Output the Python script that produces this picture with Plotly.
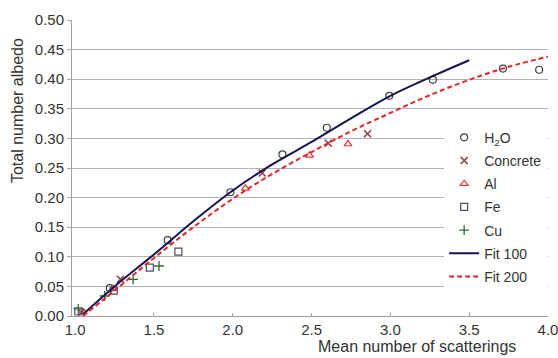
import plotly.graph_objects as go

# Data
h2o_x = [1.22, 1.587, 1.985, 2.315, 2.597, 2.993, 3.27, 3.714, 3.944]
h2o_y = [0.047, 0.128, 0.209, 0.273, 0.318, 0.372, 0.399, 0.418, 0.416]

concrete_x = [1.04, 1.287, 2.187, 2.606, 2.855]
concrete_y = [0.006, 0.062, 0.2416, 0.2917, 0.308]

al_x = [1.05, 1.24, 2.08, 2.487, 2.731]
al_y = [0.007, 0.046, 0.2157, 0.2714, 0.2905]

fe_x = [1.02, 1.245, 1.474, 1.655]
fe_y = [0.008, 0.043, 0.0817, 0.1087]

cu_x = [1.02, 1.187, 1.368, 1.532]
cu_y = [0.012, 0.0338, 0.062, 0.0845]

fit100_x = [1.05, 1.25, 1.5, 1.75, 2.0, 2.25, 2.5, 2.75, 3.0, 3.25, 3.5]
fit100_y = [0.003, 0.050, 0.104, 0.160, 0.212, 0.256, 0.294, 0.334, 0.372, 0.403, 0.432]

fit200_x = [1.05, 1.25, 1.5, 1.75, 2.0, 2.25, 2.5, 2.75, 3.0, 3.25, 3.5, 3.75, 4.0]
fit200_y = [0.0, 0.043, 0.098, 0.150, 0.198, 0.240, 0.277, 0.312, 0.343, 0.373, 0.399, 0.421, 0.438]

x_ticks = [1.0, 1.5, 2.0, 2.5, 3.0, 3.5, 4.0]
y_ticks = [0.0, 0.05, 0.10, 0.15, 0.20, 0.25, 0.30, 0.35, 0.40, 0.45, 0.50]

FONT = "Liberation Sans, Arial, sans-serif"
TXT = "#333333"

fig = go.Figure()

def scatter(x, y, name, symbol, color, size=7, lw=1.2, grp=""):
    fig.add_trace(go.Scatter(
        x=x, y=y, mode="markers", name=name, legendgroup=grp,
        marker=dict(symbol=symbol, size=size, color=color,
                    line=dict(color=color, width=lw)),
    ))

scatter(h2o_x, h2o_y, "H<sub>2</sub>O", "circle-open", "#404040", 7, 1.2, "a")
scatter(concrete_x, concrete_y, "Concrete", "x-thin-open", "#8a3b3b", 7, 1.5, "b")
scatter(al_x, al_y, "Al", "triangle-up-open", "#e03a3a", 7, 1.2, "c")
scatter(fe_x, fe_y, "Fe", "square-open", "#4a4a68", 7, 1.2, "d")
scatter(cu_x, cu_y, "Cu", "cross-thin-open", "#2f6b35", 7, 1.3, "e")

fig.add_trace(go.Scatter(
    x=fit100_x, y=fit100_y, mode="lines", name="Fit 100", legendgroup="f",
    line=dict(color="#141450", width=2, shape="spline"),
))
fig.add_trace(go.Scatter(
    x=fit200_x, y=fit200_y, mode="lines", name="Fit 200", legendgroup="g",
    line=dict(color="#e02828", width=2, dash="5px,3px", shape="spline"),
))

fig.update_layout(
    width=558, height=358, autosize=False,
    margin=dict(l=72, r=10, t=20, b=42, autoexpand=False),
    paper_bgcolor="white", plot_bgcolor="white",
    font=dict(family=FONT, size=15, color=TXT),
    showlegend=True,
    legend=dict(
        xref="container", yref="container",
        x=0.796, y=0.660, xanchor="left", yanchor="top",
        bgcolor="white", borderwidth=0,
        font=dict(family=FONT, size=14, color=TXT),
        traceorder="grouped", tracegroupgap=2,
    ),
    xaxis=dict(
        range=[0.98, 4.0], tickvals=x_ticks,
        ticktext=[f"{v:.1f}" for v in x_ticks],
        showgrid=False, zeroline=False,
        showline=True, linecolor="#a0a0a0", linewidth=1,
        ticks="inside", ticklen=3, tickcolor="#a0a0a0",
        tickfont=dict(size=15, color=TXT),
        ticklabeloverflow="allow",
    ),
    yaxis=dict(
        range=[0, 0.5], tickvals=y_ticks,
        ticktext=[f"{v:.2f}" for v in y_ticks],
        showgrid=True, gridcolor="#b4b4b4", gridwidth=1,
        zeroline=False,
        showline=True, linecolor="#a0a0a0", linewidth=1,
        ticks="outside", ticklen=4, tickcolor="#a0a0a0",
        tickfont=dict(size=15, color=TXT),
        ticklabeloverflow="allow",
    ),
    annotations=[
        dict(text="Mean number of scatterings", xref="paper", yref="paper",
             x=0.725, y=-0.066, xanchor="center", yanchor="top",
             showarrow=False, font=dict(size=16, color=TXT)),
        dict(text="Total number albedo", xref="paper", yref="paper",
             x=-0.113, y=0.693, xanchor="center", yanchor="middle",
             textangle=-90, showarrow=False,
             font=dict(size=16, color=TXT)),
    ],
)

fig.write_html(
    "out.html",
    config={"responsive": False, "displayModeBar": False},
    post_script="document.body.style.margin='0px';"
                "document.documentElement.style.overflow='hidden';",
)
